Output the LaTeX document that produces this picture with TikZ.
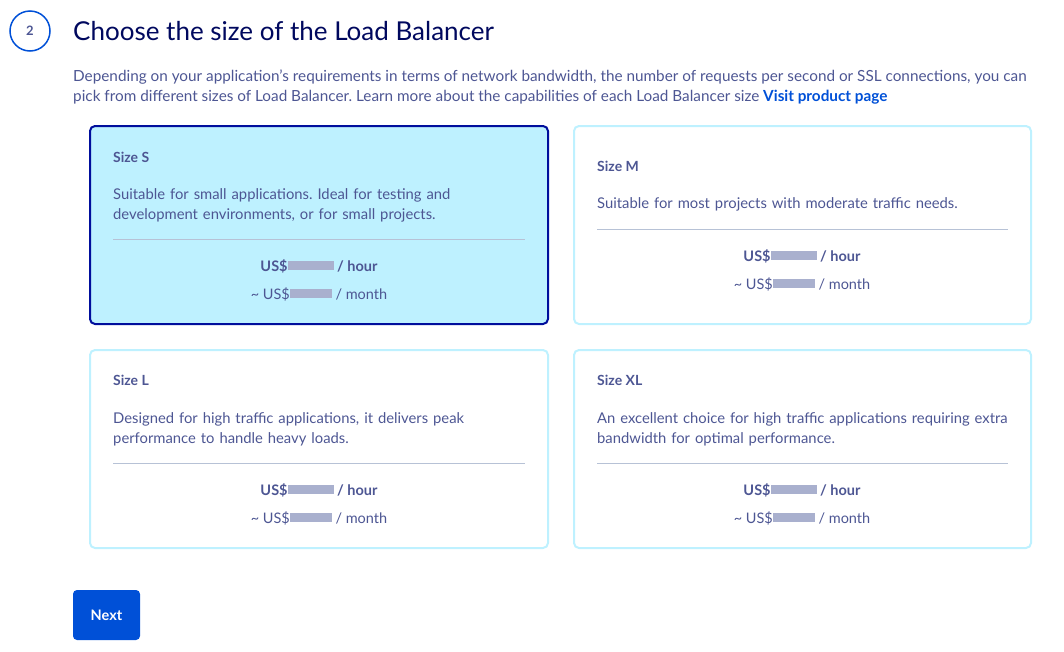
\documentclass[tikz,border=0pt]{standalone}
\usepackage{fontspec}
\setmainfont{Lato}
\usetikzlibrary{positioning}
\definecolor{navy}{HTML}{000E9C}
\definecolor{ink}{HTML}{4D5693}
\definecolor{cyanlt}{HTML}{BEF1FF}
\definecolor{rule}{HTML}{B7C2D6}
\definecolor{linkblue}{HTML}{0050D7}
\definecolor{blur}{HTML}{A9B0CE}
\newcommand{\blurbox}[1]{\tikz[baseline=-1pt]\fill[blur] (0,0) rectangle (#1,9pt);}
\frenchspacing
\begin{document}
\begin{tikzpicture}[x=1pt,y=-1pt,
  card/.style={draw=cyanlt, line width=2pt, rounded corners=5pt},
  chosen/.style={draw=navy, fill=cyanlt, line width=2pt, rounded corners=5pt},
  heading/.style={anchor=west, text=ink, inner sep=0pt, font=\fontsize{14}{17}\selectfont\bfseries},
  body/.style={anchor=west, text=ink, font=\fontsize{14.8}{20}\selectfont, align=left, text width=440pt, inner sep=0pt},
  price/.style={text=ink, font=\fontsize{14.5}{17}\selectfont\bfseries},
  month/.style={text=ink, font=\fontsize{14.5}{17}\selectfont},
  divider/.style={draw=rule, line width=0.8pt}]
\useasboundingbox (0,0) rectangle (1064,651);
% step marker and heading
\node[circle, draw=linkblue, line width=1.5pt, minimum size=40pt, text=ink, font=\fontsize{13}{13}\selectfont\bfseries] (step2) at (30,31) {2};
\node[anchor=west, text=navy!60!black, font=\fontsize{26}{28}\selectfont, inner sep=0pt] (title) at (73,31) {Choose the size of the Load Balancer};
\node[anchor=north west, text=ink, font=\fontsize{15.3}{20}\selectfont, align=left, inner sep=0pt] (intro) at (73,70)
  {Depending on your application’s requirements in terms of network bandwidth, the number of requests per second or SSL connections, you can\\
   pick from different sizes of Load Balancer. Learn more about the capabilities of each Load Balancer size \textcolor{linkblue}{\bfseries Visit product page}};
% cards
\draw[chosen] (90,126) rectangle (548,324);
\draw[card] (574,126) rectangle (1031,324);
\draw[card] (90,350) rectangle (548,548);
\draw[card] (574,350) rectangle (1031,548);
% size S
\node[heading] (sT) at (113,157) {Size S};
\node[body, anchor=north west] (sD) at (113,188) {Suitable for small applications. Ideal for testing and\\development environments, or for small projects.};
\draw[divider] (113,239) -- (525,239);
\node[price] (sP) at (319,266) {US\$\blurbox{46pt} / hour};
\node[month] (sM) at (319,294) {\textasciitilde{} US\$\blurbox{42pt} / month};
% size M
\node[heading] (mT) at (597,166) {Size M};
\node[body] (mD) at (597,204) {Suitable for most projects with moderate traffic needs.};
\draw[divider] (597,229) -- (1008,229);
\node[price] (mP) at (802,256) {US\$\blurbox{46pt} / hour};
\node[month] (mM) at (802,284) {\textasciitilde{} US\$\blurbox{42pt} / month};
% size L
\node[heading] (lT) at (113,380) {Size L};
\node[body, anchor=north west] (lD) at (113,412) {Designed for high traffic applications, it delivers peak\\performance to handle heavy loads.};
\draw[divider] (113,463) -- (525,463);
\node[price] (lP) at (319,490) {US\$\blurbox{46pt} / hour};
\node[month] (lM) at (319,518) {\textasciitilde{} US\$\blurbox{42pt} / month};
% size XL
\node[heading] (xT) at (597,380) {Size XL};
\node[body, anchor=north west] (xD) at (597,412) {An excellent choice for high traffic applications requiring extra\\bandwidth for optimal performance.};
\draw[divider] (597,463) -- (1008,463);
\node[price] (xP) at (802,490) {US\$\blurbox{46pt} / hour};
\node[month] (xM) at (802,518) {\textasciitilde{} US\$\blurbox{42pt} / month};
% button
\node[fill=linkblue, rounded corners=4pt, minimum width=67pt, minimum height=50pt, text=white, font=\fontsize{14.5}{17}\selectfont\bfseries] (next) at (106.5,615) {Next};
\end{tikzpicture}
\end{document}
